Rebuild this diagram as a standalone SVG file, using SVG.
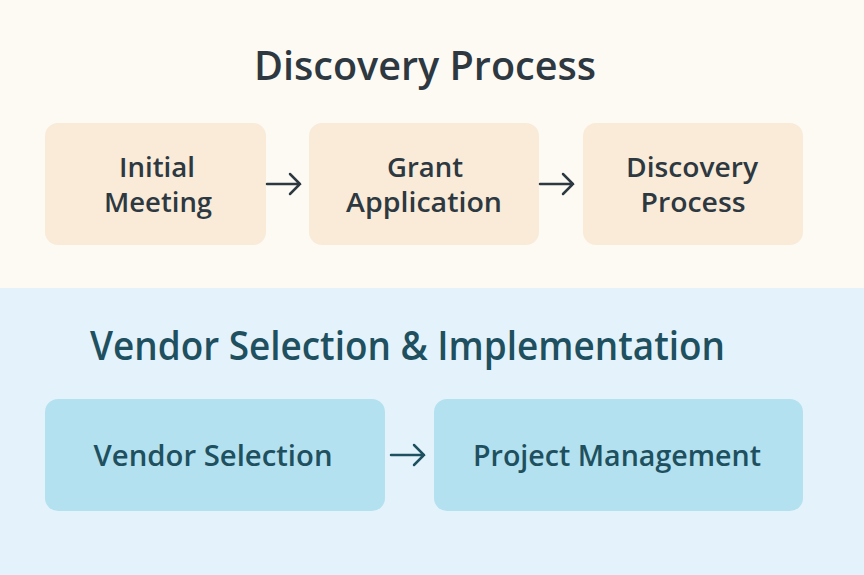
<svg xmlns="http://www.w3.org/2000/svg" width="864" height="575" viewBox="0 0 864 575">
<style>
.t{font-family:"Open Sans","Liberation Sans",Arial,sans-serif;font-weight:600}
.title{font-size:39px}
.lbl{font-size:27px;text-anchor:middle}
.top{fill:#2D3841}
.bot{fill:#1E5060}
.nt{fill:#F9EBD8}
.nb{fill:#B4E1EF}
.ct{stroke:#2D3841;stroke-width:2.5;fill:none;stroke-linecap:round;stroke-linejoin:miter}
.cb{stroke:#1E5060;stroke-width:2.5;fill:none;stroke-linecap:round}
</style>
<rect x="0" y="0" width="864" height="288" fill="#FDFAF4"/>
<rect x="0" y="288" width="864" height="287" fill="#E4F3FB"/>
<text class="t title top" x="425" y="80" text-anchor="middle" textLength="342" lengthAdjust="spacingAndGlyphs">Discovery Process</text>
<text class="t title bot" x="90" y="360" textLength="635" lengthAdjust="spacingAndGlyphs">Vendor Selection &amp; Implementation</text>
<g id="n1"><rect class="nt" x="45" y="123" width="221" height="122" rx="13"/><text class="t lbl top" x="157" y="177" textLength="76" lengthAdjust="spacingAndGlyphs">Initial</text><text class="t lbl top" x="158" y="212" textLength="108" lengthAdjust="spacingAndGlyphs">Meeting</text></g>
<g id="n2"><rect class="nt" x="309" y="123" width="230" height="122" rx="13"/><text class="t lbl top" x="425" y="177" textLength="76" lengthAdjust="spacingAndGlyphs">Grant</text><text class="t lbl top" x="424" y="212" textLength="156" lengthAdjust="spacingAndGlyphs">Application</text></g>
<g id="n3"><rect class="nt" x="583" y="123" width="220" height="122" rx="13"/><text class="t lbl top" x="692" y="177" textLength="132" lengthAdjust="spacingAndGlyphs">Discovery</text><text class="t lbl top" x="693" y="212" textLength="105" lengthAdjust="spacingAndGlyphs">Process</text></g>
<g id="n4"><rect class="nb" x="45" y="399" width="340" height="112" rx="13"/><text class="t lbl bot" x="213" y="466" style="font-size:29px" textLength="239" lengthAdjust="spacingAndGlyphs">Vendor Selection</text></g>
<g id="n5"><rect class="nb" x="434" y="399" width="369" height="112" rx="13"/><text class="t lbl bot" x="617" y="466" style="font-size:29px" textLength="288" lengthAdjust="spacingAndGlyphs">Project Management</text></g>
<g id="connectors">
<path class="ct" d="M267 184H300M290 174L300 184L290 194"/>
<path class="ct" d="M540 184H573M563 174L573 184L563 194"/>
<path class="cb" d="M391 455H424M414 445L424 455L414 465"/>
</g>
</svg>
